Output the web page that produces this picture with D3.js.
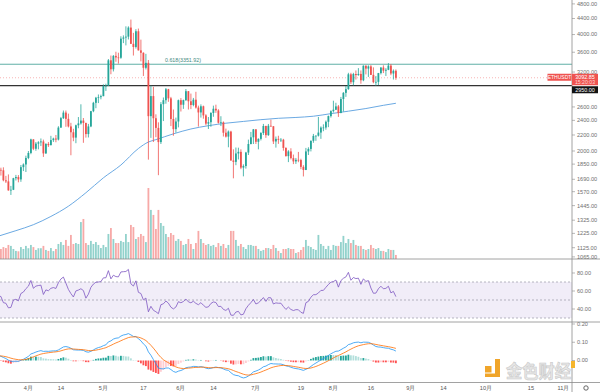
<!DOCTYPE html>
<html><head><meta charset="utf-8">
<script src="https://cdn.jsdelivr.net/npm/d3@7/dist/d3.min.js"></script>
<style>body{margin:0;background:#fff}svg{display:block}text{font-family:"Liberation Sans",Arial,sans-serif}</style>
</head><body><svg id="c" width="600" height="392"></svg>
<script>
// ---------- DATA (ETHUSDT daily, 2021-03-20 .. 2021-08-26) ----------
const startDate = "2021-03-20";
const opens = [1810,1788,1783,1680,1669,1582,1588,1701,1713,1689,1817,1846,
1919,1977,2143,2027,2090,2106,2117,1972,2086,2071,2134,2154,2141,2299,2432,2514,2422,2315,2236,2166,2331,2357,2397,2364,2212,2315,2535,2664,2746,2756,
2772,2945,2950,3431,3253,3523,3490,3484,3903,3930,3950,4169,3785,3715,4079,3640,3588,3282,3380,2461,2773,2431,2295,2109,2643,2706,2888,2736,2420,2278,2384,
2706,2634,2708,2855,2689,2630,2714,2590,2516,2610,2472,2354,2374,2508,2572,2546,2366,2373,2230,2179,2245,1890,1875,1971,1990,1812,1829,1982,2085,2170,
2275,2113,2150,2226,2321,2198,2324,2317,2117,2150,2138,2139,2037,1940,1995,1917,1880,1898,1895,1820,1787,1995,2025,2125,2188,2191,2232,2299,2300,2380,2462,
2536,2557,2608,2507,2725,2827,2890,3157,3012,3163,3142,3164,3047,3322,3266,3309,3146,3013,3018,3180,3286,3226,3243,3324,3172,3224];
const highs = [1870,1811,1815,1725,1740,1625,1705,1735,1733,1840,1858,1945,
2000,2152,2145,2110,2120,2155,2140,2095,2109,2189,2165,2200,2318,2450,2545,2545,2498,2365,2283,2340,2448,2641,2434,2366,2350,2540,2680,2760,2800,2797,
2974,2985,3458,3530,3540,3611,3590,3959,3980,4200,4200,4372,4040,4130,4145,3880,3598,3566,3437,2950,2930,2488,2372,2676,2750,2910,2895,2760,2560,2440,2716,
2740,2715,2892,2858,2815,2743,2845,2620,2640,2620,2490,2448,2520,2620,2635,2565,2460,2385,2285,2260,2256,2020,2042,2040,2020,1847,1990,2140,2240,2280,
2278,2156,2238,2350,2325,2349,2410,2320,2180,2190,2160,2150,2045,2010,2033,1958,1919,1989,1910,1838,2037,2045,2130,2214,2195,2450,2316,2344,2398,2470,2549,
2698,2665,2630,2759,2840,2945,3185,3185,3185,3230,3275,3230,3330,3330,3330,3335,3290,3125,3183,3295,3330,3275,3375,3357,3250,3250];
const lows = [1780,1728,1670,1653,1580,1540,1585,1678,1660,1665,1775,1765,
1905,1962,2010,2003,2020,2060,1931,1965,2049,2068,2111,2107,2130,2295,2420,2310,2301,1950,2120,2095,2290,2340,2100,2166,2168,2305,2520,2580,2660,2720,
2771,2860,2950,3158,3211,3401,3364,3462,3801,3750,3885,3780,3530,3680,3638,3410,3126,3250,1900,2163,2110,2172,1732,2085,2390,2650,2680,2320,2190,2231,2302,
2530,2570,2693,2560,2566,2610,2574,2313,2440,2424,2331,2280,2310,2452,2510,2355,2320,2180,2167,2045,1889,1700,1838,1902,1795,1720,1801,1953,2080,2085,
2085,2020,2130,2200,2163,2189,2310,2085,2041,2087,2110,2004,1935,1872,1902,1850,1852,1871,1795,1719,1785,1953,1995,2100,2125,2180,2150,2250,2270,2305,2440,
2515,2552,2450,2505,2530,2760,2880,2980,2955,3060,3130,2985,3030,3155,3108,3145,2993,2950,2960,3154,3180,3126,3236,3140,3060,3055];
const closes = [1788,1783,1680,1669,1582,1588,1701,1713,1689,1817,1846,1919,
1977,2143,2027,2090,2106,2117,1972,2086,2071,2134,2154,2141,2299,2432,2514,2422,2315,2236,2166,2331,2357,2397,2364,2212,2315,2535,2664,2746,2756,2772,
2945,2950,3431,3253,3523,3490,3484,3903,3930,3950,4169,3785,3715,4079,3640,3588,3282,3380,2461,2773,2431,2295,2109,2643,2706,2888,2736,2420,2278,2384,2706,
2634,2708,2855,2689,2630,2714,2590,2516,2610,2472,2354,2374,2508,2572,2546,2366,2373,2230,2179,2245,1890,1875,1971,1990,1812,1829,1982,2085,2170,2275,
2113,2150,2226,2321,2198,2324,2317,2117,2150,2138,2139,2037,1940,1995,1917,1880,1898,1895,1820,1787,1995,2025,2125,2188,2191,2232,2299,2300,2380,2462,2536,
2557,2608,2507,2725,2827,2890,3157,3012,3163,3142,3164,3047,3322,3266,3309,3146,3013,3018,3180,3286,3226,3243,3324,3172,3224,3092.85];
const volumes = [560,520,620,570,730,680,520,420,400,620,520,680,
560,730,620,470,560,560,680,470,420,570,410,520,780,880,730,990,680,1250,780,830,780,1920,2080,830,730,940,780,880,730,570,
730,620,1300,1610,1040,830,830,940,880,1300,880,1770,1660,1040,1140,1300,1200,880,3690,2550,2290,1560,2550,1870,1720,1300,1140,1350,1250,940,1040,
940,730,780,1040,780,520,830,1460,1040,830,730,780,680,730,620,830,680,780,570,730,1460,1460,990,680,780,620,520,730,730,680,
680,520,420,470,570,570,520,730,570,420,310,520,520,570,520,520,310,360,470,620,990,680,620,520,470,1250,780,680,520,680,470,
730,680,680,880,1200,830,1040,830,990,730,680,680,520,470,520,730,570,520,570,420,420,360,520,470,470,210];
// closes before the visible range (2021-02-01 .. 2021-03-19), used to warm up RSI / MACD
const priorCloses = [1369,1513,1661,1591,1724,1677,1613,1750,1769,1743,1785,1842,1815,1800,1780,1781,1848,1938,1960,1920,1935,1781,1570,1626,1476,1446,1459,1416,
1564,1492,1575,1541,1533,1655,1723,1834,1868,1799,1826,1772,1924,1854,1792,1806,1823,1780,1812];
// moving average line
const maDates = ["2021-03-20","2021-03-27","2021-04-03","2021-04-10","2021-04-17","2021-04-24","2021-05-01","2021-05-08","2021-05-15","2021-05-19","2021-05-22","2021-05-29","2021-06-05","2021-06-12","2021-06-19","2021-06-26","2021-07-03","2021-07-10","2021-07-17","2021-07-24","2021-07-31","2021-08-07","2021-08-14","2021-08-21","2021-08-26"];
const maValues = [1205,1245,1290,1355,1440,1560,1705,1840,2030,2110,2140,2215,2280,2325,2360,2385,2410,2430,2442,2460,2498,2535,2575,2625,2657];
const priceTicks = [4800,4400,4000,3600,3200,2600,2400,2200,2000,1850,1690,1570,1445,1325,1225,1125,1065];
const rsiTicks = [80,60,40];
const rsiBands = [70,50,30];
const macdTicks = [0.2,0.1,0];
const timeTickDates = ["2021-04-01","2021-04-14","2021-05-01","2021-05-17","2021-06-01","2021-06-14","2021-07-01","2021-07-19","2021-08-01","2021-08-16","2021-09-01","2021-09-14","2021-10-01","2021-10-19","2021-11-01"];
const timeTickLabels = ["4月","14","5月","17","6月","14","7月","19","8月","16","9月","14","10月","15","11月"];
const fibLevel = 3351.92, fibText = "0.618(3351.92)";
const levelLine = 2950;
const symbol = "ETHUSDT", lastPrice = 3092.85, countdown = "15:20:03";

// ---------- LAYOUT ----------
const svg = d3.select("#c");
const W = 600, H = 392, R = 572;
const mainTop = 0, mainBot = 259, rsiBot = 322, macdBot = 382.5;
const up = "#26a69a", dn = "#ef5350";
const parse = d3.utcParse("%Y-%m-%d");
const t0 = parse(startDate);
const dates = closes.map((_, i) => d3.utcDay.offset(t0, i));
const x = d3.scaleUtc().domain([parse("2021-04-01"), parse("2021-11-01")]).range([28.4, 563.4]);
const y = d3.scaleLog().domain([1065, 4800]).range([256.9, 3.9]);
const vH = d3.scaleLinear().domain([0, d3.max(volumes)]).range([0, 71]);
const rsiY = d3.scaleLinear().domain([30, 70]).range([318, 282]);
const macdY = d3.scaleLinear().domain([0, 0.2]).range([360.5, 324]);
const bw = 1.8;

const defs = svg.append("defs");
[["cm", mainTop, mainBot], ["cr", mainBot, rsiBot], ["cd", rsiBot, macdBot]].forEach(([id, a, b]) => {
  defs.append("clipPath").attr("id", id).append("rect").attr("x", 0).attr("y", a).attr("width", R).attr("height", b - a);
});

// ---------- MAIN PANE ----------
const gm = svg.append("g").attr("clip-path", "url(#cm)");
gm.selectAll("rect.v").data(volumes).join("rect")
  .attr("x", (v, i) => x(dates[i]) - bw / 2).attr("width", bw)
  .attr("y", v => mainBot - vH(v)).attr("height", v => vH(v))
  .attr("fill", (v, i) => closes[i] >= opens[i] ? up : dn).attr("opacity", 0.5);
gm.append("path").datum(maDates.map((d, i) => [parse(d), maValues[i]]))
  .attr("d", d3.line().x(d => x(d[0])).y(d => y(d[1])).curve(d3.curveMonotoneX))
  .attr("fill", "none").attr("stroke", "#5a9fdf").attr("stroke-width", 0.9);
gm.append("line").attr("x1", 0).attr("x2", R).attr("y1", y(fibLevel)).attr("y2", y(fibLevel)).attr("stroke", "#5fb0a6").attr("stroke-width", 1);
gm.append("line").attr("x1", 0).attr("x2", R).attr("y1", y(levelLine)).attr("y2", y(levelLine)).attr("stroke", "#333").attr("stroke-width", 1.2);
gm.append("line").attr("x1", 0).attr("x2", R).attr("y1", y(lastPrice)).attr("y2", y(lastPrice)).attr("stroke", dn).attr("stroke-width", 0.7).attr("stroke-dasharray", "1,2").attr("opacity", 0.6);
gm.append("text").attr("x", 165).attr("y", y(fibLevel) - 2.5).attr("font-size", 5.3).attr("fill", "#3f8a82").text(fibText);
const cg = gm.selectAll("g.c").data(closes).join("g");
cg.append("line").attr("x1", (c, i) => x(dates[i])).attr("x2", (c, i) => x(dates[i]))
  .attr("y1", (c, i) => y(highs[i])).attr("y2", (c, i) => y(lows[i]))
  .attr("stroke", (c, i) => c >= opens[i] ? up : dn).attr("stroke-width", 0.8);
cg.append("rect").attr("x", (c, i) => x(dates[i]) - bw / 2).attr("width", bw)
  .attr("y", (c, i) => y(Math.max(c, opens[i])))
  .attr("height", (c, i) => Math.max(0.7, Math.abs(y(c) - y(opens[i]))))
  .attr("fill", (c, i) => c >= opens[i] ? up : dn);

// ---------- INDICATORS (RSI 14, MACD 12/26/9 in relative units) ----------
const all = priorCloses.concat(closes), off = priorCloses.length;
function rsiCalc(a, n) {
  const out = new Array(a.length).fill(null); let g = 0, l = 0;
  for (let i = 1; i <= n; i++) { const d = a[i] - a[i - 1]; if (d > 0) g += d; else l -= d; }
  g /= n; l /= n; out[n] = 100 - 100 / (1 + g / l);
  for (let i = n + 1; i < a.length; i++) { const d = a[i] - a[i - 1];
    g = (g * (n - 1) + Math.max(d, 0)) / n; l = (l * (n - 1) + Math.max(-d, 0)) / n;
    out[i] = l === 0 ? 100 : 100 - 100 / (1 + g / l); }
  return out;
}
function ema(a, n) { const k = 2 / (n + 1); let e = a[0]; return a.map((v, i) => (e = i === 0 ? v : v * k + e * (1 - k))); }
const rsiAll = rsiCalc(all, 14);
const e12 = ema(all, 12), e26 = ema(all, 26);
const macdAll = e12.map((v, i) => (v - e26[i]) / e26[i]);
const sigAll = ema(macdAll, 9);
const histAll = macdAll.map((v, i) => v - sigAll[i]);
const rsiV = rsiAll.slice(off), macdV = macdAll.slice(off), sigV = sigAll.slice(off), histV = histAll.slice(off);

const gr = svg.append("g").attr("clip-path", "url(#cr)");
gr.append("rect").attr("x", 0).attr("width", R).attr("y", rsiY(70)).attr("height", rsiY(30) - rsiY(70)).attr("fill", "#7e57c2").attr("opacity", 0.11);
rsiBands.forEach(b => gr.append("line").attr("x1", 0).attr("x2", R).attr("y1", rsiY(b)).attr("y2", rsiY(b))
  .attr("stroke", "#9a9aa6").attr("stroke-width", 0.7).attr("stroke-dasharray", "2,2"));
gr.append("path").datum(rsiV).attr("d", d3.line().x((d, i) => x(dates[i])).y(d => rsiY(d)))
  .attr("fill", "none").attr("stroke", "#7e57c2").attr("stroke-width", 0.8);

const gd = svg.append("g").attr("clip-path", "url(#cd)");
gd.selectAll("rect.h").data(histV).join("rect")
  .attr("x", (h, i) => x(dates[i]) - bw / 2).attr("width", bw)
  .attr("y", h => Math.min(macdY(h), macdY(0))).attr("height", h => Math.abs(macdY(h) - macdY(0)))
  .attr("fill", (h, i) => { const p = histAll[off + i - 1];
    return h >= 0 ? (h >= p ? "#26a69a" : "#b2dfdb") : (h < p ? "#ff5252" : "#ffcdd2"); });
gd.append("path").datum(macdV).attr("d", d3.line().x((d, i) => x(dates[i])).y(d => macdY(d)))
  .attr("fill", "none").attr("stroke", "#2196f3").attr("stroke-width", 0.8);
gd.append("path").datum(sigV).attr("d", d3.line().x((d, i) => x(dates[i])).y(d => macdY(d)))
  .attr("fill", "none").attr("stroke", "#ff6d00").attr("stroke-width", 0.8);

// ---------- WATERMARK ----------
const wm = svg.append("g");
wm.append("rect").attr("x", 485).attr("y", 366).attr("width", 6.5).attr("height", 6.5).attr("fill", "#f0a52a");
wm.append("rect").attr("x", 495).attr("y", 359).attr("width", 5).attr("height", 18).attr("fill", "#f0a52a");
wm.append("rect").attr("x", 485).attr("y", 373.5).attr("width", 15).attr("height", 3.5).attr("fill", "#f0a52a");
wm.append("text").attr("x", 506).attr("y", 378).attr("font-size", 18.5).attr("font-weight", "bold")
  .attr("textLength", 65).attr("lengthAdjust", "spacingAndGlyphs")
  .style("font-family", '"Noto Sans CJK SC",sans-serif').attr("fill", "#e6e6e6").attr("stroke", "#c8c8c8").attr("stroke-width", 0.6).text("金色财经");

// ---------- FRAME / AXES ----------
const axc = "#8a8a8a";
[mainBot, rsiBot, macdBot].forEach(v => svg.append("line").attr("x1", 0).attr("x2", W).attr("y1", v).attr("y2", v).attr("stroke", axc).attr("stroke-width", 0.8));
svg.append("line").attr("x1", R).attr("x2", R).attr("y1", 0).attr("y2", H).attr("stroke", axc).attr("stroke-width", 0.8);
function rightTicks(vals, sc, fmt) {
  vals.forEach(v => {
    const yy = sc(v);
    svg.append("line").attr("x1", R).attr("x2", R + 3).attr("y1", yy).attr("y2", yy).attr("stroke", axc).attr("stroke-width", 0.6);
    svg.append("text").attr("x", 577).attr("y", yy).attr("dy", "0.35em").attr("font-size", 5.6).attr("fill", "#6f6f6f").text(fmt(v));
  });
}
rightTicks(priceTicks, y, d3.format(".2f"));
rightTicks(rsiTicks, rsiY, d3.format(".2f"));
rightTicks(macdTicks, macdY, d3.format(".2f"));
svg.append("rect").attr("x", 571).attr("y", 361).attr("width", 4).attr("height", 7).attr("fill", "#f5b52c");

const ly = y(lastPrice);
svg.append("rect").attr("x", 547.5).attr("y", ly - 4).attr("width", 24).attr("height", 7).attr("fill", dn);
svg.append("text").attr("x", 559.5).attr("y", ly - 0.5).attr("dy", "0.35em").attr("text-anchor", "middle").attr("font-size", 5).attr("fill", "#fff").text(symbol);
svg.append("rect").attr("x", R).attr("y", ly - 4).attr("width", 26).attr("height", 11.5).attr("fill", dn);
svg.append("text").attr("x", 585).attr("y", ly - 0.8).attr("dy", "0.35em").attr("text-anchor", "middle").attr("font-size", 5.4).attr("fill", "#fff").text(d3.format(".2f")(lastPrice));
svg.append("text").attr("x", 585).attr("y", ly + 4.5).attr("dy", "0.35em").attr("text-anchor", "middle").attr("font-size", 5.2).attr("fill", "#ffd6d5").text(countdown);
svg.append("rect").attr("x", R).attr("y", ly + 8.5).attr("width", 26).attr("height", 7).attr("fill", "#131313");
svg.append("text").attr("x", 585).attr("y", ly + 12).attr("dy", "0.35em").attr("text-anchor", "middle").attr("font-size", 5.4).attr("fill", "#fff").text(d3.format(".2f")(levelLine));

timeTickDates.forEach((d, i) => {
  svg.append("text").attr("x", x(parse(d))).attr("y", 388).attr("dy", "0.35em").attr("text-anchor", "middle")
    .attr("font-size", 5.6).attr("fill", "#555").text(timeTickLabels[i]);
});
svg.append("circle").attr("cx", 586).attr("cy", 388).attr("r", 2.2).attr("fill", "none").attr("stroke", "#555").attr("stroke-width", 0.9);
</script>
</body></html>
